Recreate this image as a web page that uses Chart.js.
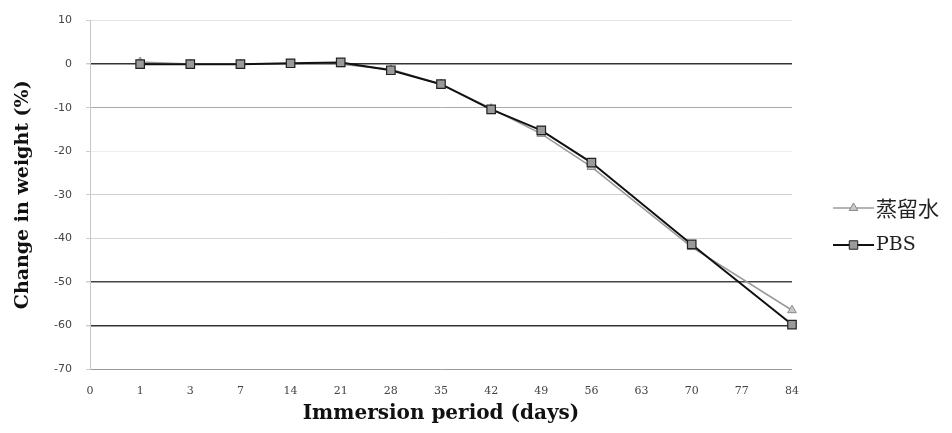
<!DOCTYPE html>
<html>
<head>
<meta charset="utf-8">
<script src="https://cdn.jsdelivr.net/npm/chart.js@4/dist/chart.umd.min.js"></script>
<style>
  html, body { margin: 0; padding: 0; background: #fff; }
  #wrap { width: 952px; height: 433px; position: relative; }
</style>
</head>
<body>
<div id="wrap"><canvas id="c" width="952" height="433"></canvas></div>
<script>
// Immersion days (category axis)
const days = ['0', '1', '3', '7', '14', '21', '28', '35', '42', '49', '56', '63', '70', '77', '84'];
// Weight change (%) per immersion day; null where no measurement was taken
const distilledWater = [null, 0.5, 0, 0, 0, 0, -1.2, -4.6, -10.2, -16.0, -23.6, null, -42.0, null, -56.5];
const pbs = [null, 0, 0, 0, 0.2, 0.4, -1.4, -4.6, -10.4, -15.2, -22.6, null, -41.4, null, -59.8];
// Series names
const seriesNames = ['蒸留水', 'PBS'];
// Y-axis range
const yMin = -70, yMax = 10, yStep = 10;

// Per-gridline colours (value -> colour)
const gridColour = {
  '10': '#e4e4e4', '0': '#333', '-10': '#aaa', '-20': '#eee', '-30': '#d0d0d0',
  '-40': '#d6d6d6', '-50': '#444', '-60': '#333', '-70': '#999'
};

// Legend drawn to the right of the plot: line + marker + label
const sideLegend = {
  id: 'sideLegend',
  afterDraw(chart) {
    const ctx = chart.ctx;
    const rows = [
      { y: 208, font: '21px "Noto Sans CJK JP"' },
      { y: 245, font: '19px "DejaVu Serif"' }
    ];
    chart.data.datasets.forEach((ds, i) => {
      const r = rows[i];
      const x0 = 833, x1 = 874;
      ctx.save();
      ctx.strokeStyle = ds.borderColor;
      ctx.lineWidth = ds.borderWidth;
      ctx.beginPath();
      ctx.moveTo(x0, r.y);
      ctx.lineTo(x1, r.y);
      ctx.stroke();
      ctx.fillStyle = ds.pointBackgroundColor;
      ctx.strokeStyle = ds.pointBorderColor;
      ctx.lineWidth = 1;
      Chart.helpers.drawPoint(ctx, {
        pointStyle: ds.pointStyle,
        radius: ds.pointRadius,
        borderWidth: 1,
        rotation: 0
      }, (x0 + x1) / 2, r.y);
      ctx.fillStyle = '#222';
      ctx.font = r.font;
      ctx.textBaseline = 'middle';
      ctx.textAlign = 'left';
      ctx.fillText(ds.label, x1 + 2, r.y);
      ctx.restore();
    });
  }
};

new Chart(document.getElementById('c'), {
  type: 'line',
  data: {
    labels: days,
    datasets: [
      {
        label: seriesNames[0],
        data: distilledWater,
        borderColor: '#9a9a9a',
        borderWidth: 1.6,
        pointStyle: 'triangle',
        pointRadius: 5,
        pointBackgroundColor: '#c8c8c8',
        pointBorderColor: '#8a8a8a',
        pointBorderWidth: 1,
        spanGaps: true,
        tension: 0,
        order: 2
      },
      {
        label: seriesNames[1],
        data: pbs,
        borderColor: '#111',
        borderWidth: 2,
        pointStyle: 'rect',
        pointRadius: 6,
        pointBackgroundColor: '#9a9a9a',
        pointBorderColor: '#222',
        pointBorderWidth: 1.2,
        spanGaps: true,
        tension: 0,
        order: 1
      }
    ]
  },
  options: {
    responsive: false,
    animation: false,
    devicePixelRatio: 1,
    layout: { padding: { left: 12, right: 160, top: 20, bottom: 7 } },
    plugins: {
      legend: { display: false },
      tooltip: { enabled: false }
    },
    scales: {
      x: {
        type: 'category',
        offset: false,
        afterFit: (scale) => { scale.height = 57; },
        grid: { display: false, drawTicks: false },
        border: { display: false },
        ticks: {
          autoSkip: false,
          maxRotation: 0,
          padding: 16,
          color: '#444',
          font: { family: '"DejaVu Serif"', size: 11 }
        },
        title: {
          display: true,
          text: 'Immersion period (days)',
          color: '#111',
          padding: { top: 0, bottom: 0 },
          font: { family: '"DejaVu Serif"', size: 20, weight: 'bold' }
        }
      },
      y: {
        min: yMin,
        max: yMax,
        afterFit: (scale) => { scale.width = 78; },
        ticks: {
          stepSize: yStep,
          padding: 14,
          color: '#444',
          font: { family: '"DejaVu Sans"', size: 11 }
        },
        grid: {
          color: (c) => gridColour[String(c.tick.value)] || '#ddd',
          lineWidth: (c) => (c.tick.value === 0 || c.tick.value === -50 || c.tick.value === -60) ? 1.4 : 1,
          drawTicks: true,
          tickLength: 4,
          tickColor: '#ccc'
        },
        border: { display: true, color: '#c8c8c8', width: 1 },
        title: {
          display: true,
          text: 'Change in weight (%)',
          color: '#111',
          padding: { top: 0, bottom: 8 },
          font: { family: '"DejaVu Serif"', size: 19, weight: 'bold' }
        }
      }
    }
  },
  plugins: [sideLegend]
});
</script>
</body>
</html>
